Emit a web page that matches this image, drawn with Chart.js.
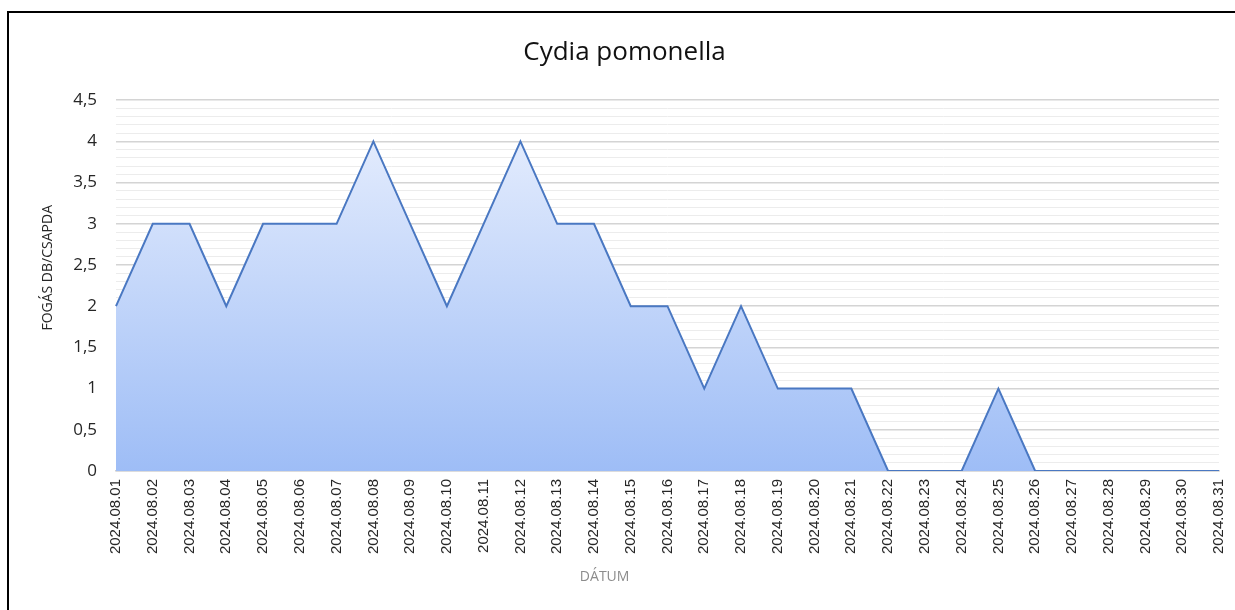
<!DOCTYPE html>
<html>
<head>
<meta charset="utf-8">
<script src="https://cdn.jsdelivr.net/npm/chart.js@4.4.1/dist/chart.umd.min.js"></script>
<style>
  html, body { margin: 0; padding: 0; background: #fff; overflow: hidden; }
  #wrap { position: relative; width: 1235px; height: 610px; }
  #frame {
    position: absolute; left: 7px; top: 11px; right: -10px; bottom: -10px;
    border-left: 2px solid #000; border-top: 2px solid #000; pointer-events: none;
  }
  canvas { position: absolute; left: 0; top: 0; }
</style>
</head>
<body>
<div id="wrap">
  <canvas id="myChart" width="1235" height="610"></canvas>
  <div id="frame"></div>
</div>
<script>
const chartTitle = "Cydia pomonella"
const yTitle = "FOGÁS DB/CSAPDA"
const xTitle = "DÁTUM"

const dates = [
  "2024.08.01", "2024.08.02", "2024.08.03", "2024.08.04", "2024.08.05",
  "2024.08.06", "2024.08.07", "2024.08.08", "2024.08.09", "2024.08.10",
  "2024.08.11", "2024.08.12", "2024.08.13", "2024.08.14", "2024.08.15",
  "2024.08.16", "2024.08.17", "2024.08.18", "2024.08.19", "2024.08.20",
  "2024.08.21", "2024.08.22", "2024.08.23", "2024.08.24", "2024.08.25",
  "2024.08.26", "2024.08.27", "2024.08.28", "2024.08.29", "2024.08.30",
  "2024.08.31"
]
const fogas = [2, 3, 3, 2, 3, 3, 3, 4, 3, 2, 3, 4, 3, 3, 2, 2, 1, 2, 1, 1, 1, 0, 0, 0, 1, 0, 0, 0, 0, 0, 0]

const yMax = 4.5
const yMinor = 0.1

// excel style number: 3,5
const fmt = (v) => String(v).replace(".", ",")

const isMajor = (v) => Math.round(v * 10) % 5 === 0

function areaFill(context) {
  const chart = context.chart
  const area = chart.chartArea
  if (!area) return "rgba(160,190,246,0.8)"
  const y = chart.scales.y
  const g = chart.ctx.createLinearGradient(0, y.getPixelForValue(4), 0, y.getPixelForValue(0))
  g.addColorStop(0, "#e2ebfd")
  g.addColorStop(1, "#9ebdf6")
  return g
}

// axis titles sit a bit off centre in the original, so draw them here
const axisTitles = {
  id: "axisTitles",
  afterDraw(chart) {
    const { ctx, chartArea } = chart
    ctx.save()
    ctx.textAlign = "center"
    ctx.textBaseline = "middle"

    ctx.font = '14px "Open Sans"'
    ctx.fillStyle = "#8c8c8c"
    const x = chartArea.left + (chartArea.right - chartArea.left) * 0.443
    ctx.fillText(xTitle, x, chartArea.bottom + 106)

    ctx.fillStyle = "#262626"
    ctx.translate(chartArea.left - 68, chartArea.top + (chartArea.bottom - chartArea.top) * 0.452)
    ctx.rotate(-Math.PI / 2)
    ctx.fillText(yTitle, 0, 0)
    ctx.restore()
  }
}

const ctx = document.getElementById("myChart").getContext("2d")

const myChart = new Chart(ctx, {
  type: "line",
  data: {
    labels: dates,
    datasets: [{
      label: chartTitle,
      data: fogas,
      borderColor: "#4a78c2",
      borderWidth: 2,
      backgroundColor: areaFill,
      fill: "origin",
      tension: 0,
      pointRadius: 0,
      pointHoverRadius: 0
    }]
  },
  options: {
    responsive: false,
    animation: false,
    layout: { padding: { left: 30, right: 16, top: 0, bottom: 0 } },
    plugins: {
      legend: { display: false },
      tooltip: { enabled: false },
      title: {
        display: true,
        text: chartTitle,
        color: "#111",
        font: { family: "Open Sans", size: 26, weight: "normal" },
        padding: { top: 37, bottom: 32 }
      }
    },
    scales: {
      x: {
        offset: false,
        grid: { display: false, drawTicks: false },
        border: { color: "#d0d0d0", width: 1.5 },
        ticks: {
          autoSkip: false,
          minRotation: 90,
          maxRotation: 90,
          padding: 8,
          color: "#262626",
          font: { family: "Liberation Sans", size: 15 }
        },
        afterFit: (s) => {
          s.height = 139
          s.paddingLeft = 0
          s.paddingRight = 0
        }
      },
      y: {
        min: 0,
        max: yMax,
        border: { display: false },
        grid: {
          drawTicks: false,
          color: (c) => isMajor(c.tick.value) ? "#d4d4d4" : "#ececec",
          lineWidth: (c) => isMajor(c.tick.value) ? 1.5 : 1
        },
        ticks: {
          stepSize: yMinor,
          autoSkip: false,
          padding: 19,
          color: "#262626",
          font: { family: "Open Sans", size: 17 },
          callback: (v) => isMajor(v) ? fmt(Math.round(v * 10) / 10) : ""
        },
        afterFit: (s) => { s.width = 86 }
      }
    }
  },
  plugins: [axisTitles]
})
</script>
</body>
</html>
